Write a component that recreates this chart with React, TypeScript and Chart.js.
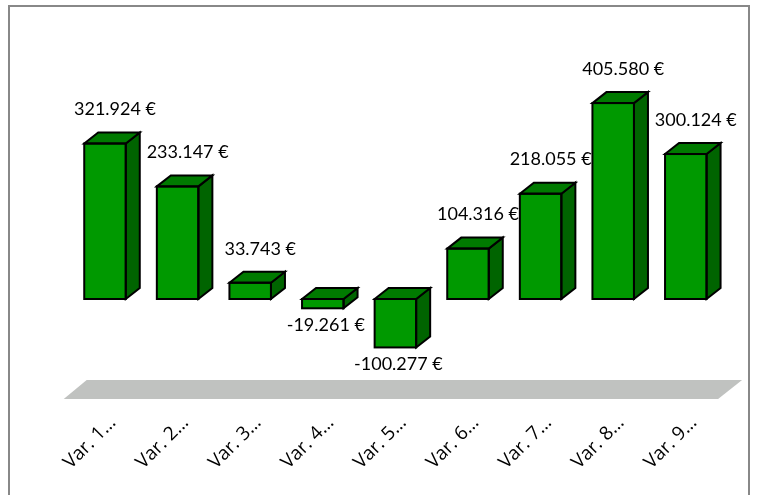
import React, { useEffect, useRef } from 'react';
import { Chart, registerables } from 'chart.js';

Chart.register(...registerables);

const categories = ['Var. 1…', 'Var. 2…', 'Var. 3…', 'Var. 4…', 'Var. 5…', 'Var. 6…', 'Var. 7…', 'Var. 8…', 'Var. 9…'];
const values = [321924, 233147, 33743, -19261, -100277, 104316, 218055, 405580, 300124];
const yMin = -200000;
const yMax = 500000;

const DEPTH_X = 14;
const DEPTH_Y = -11;
const FRONT = '#009900';
const TOP = '#007a00';
const SIDE = '#006400';

function fmt(v: number): string {
  const s = Math.abs(v).toString().replace(/\B(?=(\d{3})+(?!\d))/g, '.');
  return (v < 0 ? '-' : '') + s + ' €';
}

const floorPlugin = {
  id: 'floor3d',
  beforeDatasetsDraw(chart: any) {
    const { ctx, chartArea } = chart;
    const { left, right, bottom } = chartArea;
    ctx.save();
    ctx.fillStyle = '#c0c2c0';
    ctx.beginPath();
    ctx.moveTo(left - 5, bottom + 3.4);
    ctx.lineTo(right - 4, bottom + 3.4);
    ctx.lineTo(right + 20, bottom - 15.6);
    ctx.lineTo(left + 18, bottom - 15.6);
    ctx.closePath();
    ctx.fill();
    ctx.restore();
  },
};

const barsPlugin = {
  id: 'bars3d',
  afterDatasetsDraw(chart: any) {
    const ctx = chart.ctx;
    const meta = chart.getDatasetMeta(0);
    const data = chart.data.datasets[0].data as number[];
    meta.data.forEach((el: any, i: number) => {
      const { x, y, base, width } = el.getProps(['x', 'y', 'base', 'width'], true);
      const x0 = x - width / 2;
      const x1 = x + width / 2;
      const top = Math.min(y, base);
      const bot = Math.max(y, base);
      ctx.save();
      ctx.lineWidth = 2;
      ctx.strokeStyle = '#000';
      ctx.lineJoin = 'miter';
      // side face
      ctx.beginPath();
      ctx.moveTo(x1, top);
      ctx.lineTo(x1 + DEPTH_X, top + DEPTH_Y);
      ctx.lineTo(x1 + DEPTH_X, bot + DEPTH_Y);
      ctx.lineTo(x1, bot);
      ctx.closePath();
      ctx.fillStyle = SIDE;
      ctx.fill();
      ctx.stroke();
      // top face
      ctx.beginPath();
      ctx.moveTo(x0, top);
      ctx.lineTo(x0 + DEPTH_X, top + DEPTH_Y);
      ctx.lineTo(x1 + DEPTH_X, top + DEPTH_Y);
      ctx.lineTo(x1, top);
      ctx.closePath();
      ctx.fillStyle = TOP;
      ctx.fill();
      ctx.stroke();
      // front outline
      ctx.strokeRect(x0, top, width, bot - top);
      // data label
      const v = data[i];
      ctx.fillStyle = '#000';
      ctx.font = '18px Lato';
      ctx.textAlign = 'center';
      ctx.textBaseline = 'middle';
      if (v >= 0) {
        ctx.fillText(fmt(v), x + 10, y - 34);
      } else {
        ctx.fillText(fmt(v), x + 3, y + 17);
      }
      ctx.restore();
    });
  },
};

export default function App() {
  const ref = useRef<HTMLCanvasElement | null>(null);
  useEffect(() => {
    if (!ref.current) return;
    const chart = new Chart(ref.current, {
      type: 'bar',
      data: {
        labels: categories,
        datasets: [
          {
            data: values,
            backgroundColor: FRONT,
            borderWidth: 0,
            categoryPercentage: 1,
            barPercentage: 0.572,
          },
        ],
      },
      options: {
        animation: false,
        responsive: false,
        devicePixelRatio: 1,
        layout: { padding: { left: 68.7, right: 34.9, top: 57.5, bottom: 0 } },
        plugins: { legend: { display: false }, tooltip: { enabled: false } },
        scales: {
          y: { display: false, min: yMin, max: yMax },
          x: {
            grid: { display: false },
            border: { display: false },
            afterFit: (s: any) => {
              s.height = 99.4;
            },
            ticks: {
              autoSkip: false,
              maxRotation: 45,
              minRotation: 45,
              labelOffset: 8,
              padding: 8,
              color: '#000',
              font: { family: 'Open Sans', size: 19 },
            },
          },
        },
      },
      plugins: [floorPlugin, barsPlugin],
    });
    return () => chart.destroy();
  }, []);
  return (
    <div style={{ position: 'fixed', left: 0, top: 0, width: 757, height: 495, overflow: 'hidden', background: '#fff' }}>
      <div
        style={{
          position: 'absolute',
          left: 8,
          top: 5,
          width: 742,
          height: 600,
          border: '2px solid #888',
          boxSizing: 'border-box',
        }}
      />
      <canvas ref={ref} width={757} height={495} style={{ position: 'absolute', left: 0, top: 0 }} />
    </div>
  );
}
